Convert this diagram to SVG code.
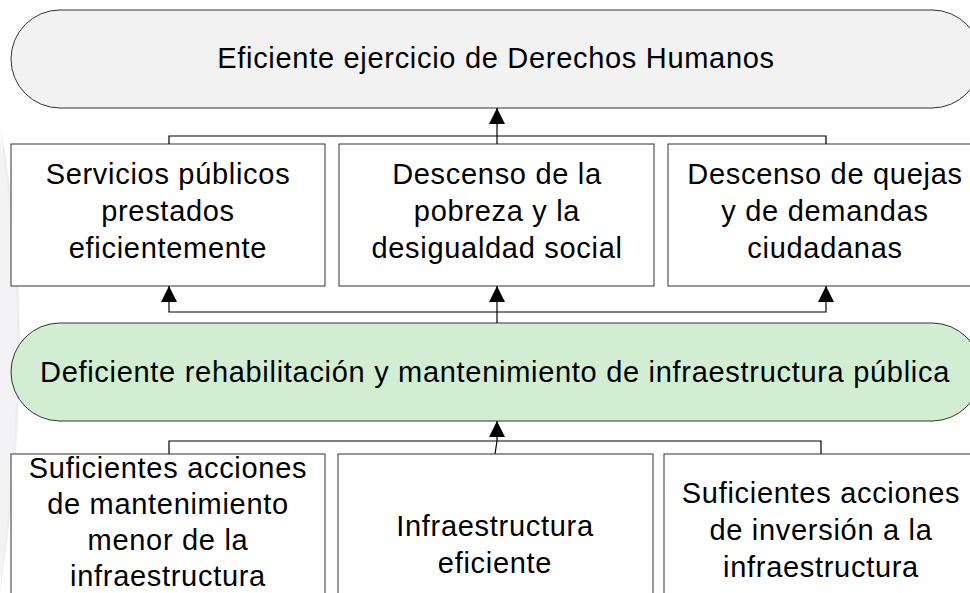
<svg xmlns="http://www.w3.org/2000/svg" width="970" height="593" viewBox="0 0 970 593">
<style>
.box{fill:#ffffff;stroke:#333333;stroke-width:1}
.term{stroke:#333333;stroke-width:1}
.t{font-family:"Liberation Sans",Arial,sans-serif;font-size:29px;letter-spacing:0.7px;fill:#000;text-anchor:middle}
.c{fill:none;stroke:#000;stroke-width:1.2}
</style>
<defs>
<marker id="arr" markerUnits="userSpaceOnUse" markerWidth="16" markerHeight="16" viewBox="0 0 16 16" refX="16" refY="8" orient="auto">
<path d="M0,0 L16,8 L0,16 z" fill="#000"/>
</marker>
</defs>
<rect width="970" height="593" fill="#ffffff"/>
<path d="M0,125 Q40,330 0,593 L0,593 Q20,330 0,125 z" fill="#eeeef1"/>
<path d="M0,140 Q34,330 0,580 L0,140 z" fill="#f3f3f5"/>
<g id="n-top">
<rect class="term" x="11" y="10" width="970" height="98" rx="49" fill="#f2f2f2"/>
<text class="t" x="496" y="68">Eficiente ejercicio de Derechos Humanos</text>
</g>
<g id="n-e1">
<rect class="box" x="11" y="144" width="314" height="142"/>
<text class="t" x="168" y="184">Servicios públicos</text>
<text class="t" x="168" y="221">prestados</text>
<text class="t" x="168" y="258">eficientemente</text>
</g>
<g id="n-e2">
<rect class="box" x="339" y="144" width="315" height="142"/>
<text class="t" x="497" y="184">Descenso de la</text>
<text class="t" x="497" y="221">pobreza y la</text>
<text class="t" x="497" y="258">desigualdad social</text>
</g>
<g id="n-e3">
<rect class="box" x="668" y="144" width="314" height="142"/>
<text class="t" x="825" y="184">Descenso de quejas</text>
<text class="t" x="825" y="221">y de demandas</text>
<text class="t" x="825" y="258">ciudadanas</text>
</g>
<g id="n-mid">
<rect class="term" x="11" y="323" width="970" height="98" rx="49" fill="#d1eed3"/>
<text class="t" x="495" y="382">Deficiente rehabilitación y mantenimiento de infraestructura pública</text>
</g>
<g id="n-c1">
<rect class="box" x="11" y="454" width="314" height="160"/>
<text class="t" x="168" y="478">Suficientes acciones</text>
<text class="t" x="168" y="514">de mantenimiento</text>
<text class="t" x="168" y="550">menor de la</text>
<text class="t" x="168" y="586">infraestructura</text>
</g>
<g id="n-c2">
<rect class="box" x="338" y="454" width="315" height="160"/>
<text class="t" x="495" y="536">Infraestructura</text>
<text class="t" x="495" y="573">eficiente</text>
</g>
<g id="n-c3">
<rect class="box" x="664" y="454" width="314" height="160"/>
<text class="t" x="821" y="503">Suficientes acciones</text>
<text class="t" x="821" y="540">de inversión a la</text>
<text class="t" x="821" y="577">infraestructura</text>
</g>
<g id="connectors">
<path class="c" d="M169,144 V136 H826 V144"/>
<path class="c" d="M497,144 V108" marker-end="url(#arr)"/>
<path class="c" d="M497,323 V286" marker-end="url(#arr)"/>
<path class="c" d="M497,312 H169 V286" marker-end="url(#arr)"/>
<path class="c" d="M497,312 H826 V286" marker-end="url(#arr)"/>
<path class="c" d="M169,454 V441 H821 V454"/>
<path class="c" d="M495,454 L497,441 V421" marker-end="url(#arr)"/>
</g>
</svg>
